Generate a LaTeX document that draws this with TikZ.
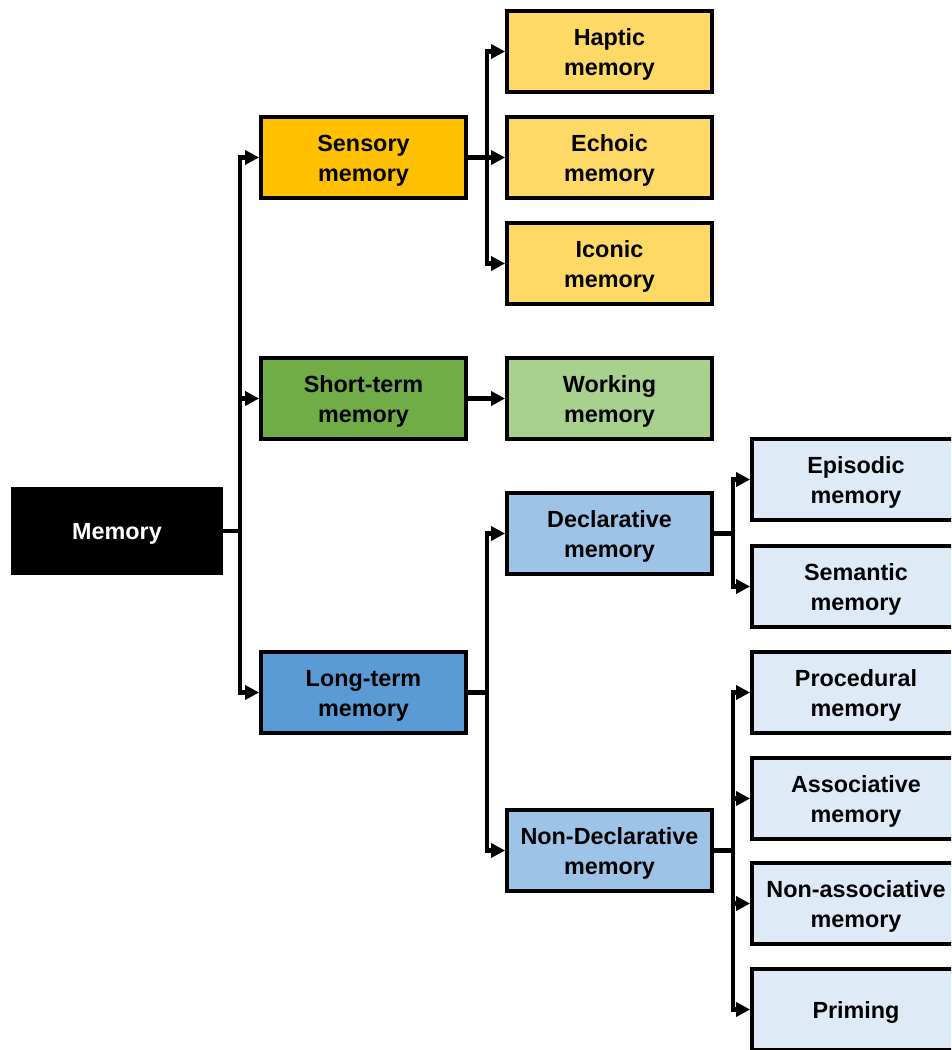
\documentclass[tikz,border=0pt]{standalone}
\usepackage{fontspec}
\setmainfont{Liberation Sans}
\usetikzlibrary{arrows.meta}
\definecolor{sensorycol}{HTML}{FFC000}
\definecolor{sensorysub}{HTML}{FFD966}
\definecolor{shortcol}{HTML}{70AD47}
\definecolor{shortsub}{HTML}{A9D18E}
\definecolor{longcol}{HTML}{5B9BD5}
\definecolor{longsub}{HTML}{9DC3E6}
\definecolor{leafcol}{HTML}{DEEBF7}
\begin{document}
\begin{tikzpicture}[x=0.02cm,y=-0.02cm,
    box/.style={draw=black,line width=2.2pt,minimum width=4.1cm,minimum height=1.62cm,
        align=center,font=\fontsize{13.3}{17}\selectfont\bfseries,inner sep=0pt,
        text height=30pt},
    oneline/.style={text height=13pt},
    link/.style={line width=2.3pt,-{Triangle[length=8pt,width=8pt]}},
    stem/.style={line width=2.3pt}]
    \useasboundingbox (0,0) rectangle (951,1050);
    \clip (0,0) rectangle (951,1050);
    % first level
    \node[box,oneline,fill=black,text=white,minimum width=4.16cm,minimum height=1.68cm] (mem) at (117,531) {Memory};
    \node[box,fill=sensorycol] (sens) at (363.5,157.5) {Sensory\\memory};
    \node[box,fill=shortcol] (short) at (363.5,398.5) {Short-term\\memory};
    \node[box,fill=longcol] (long) at (363.5,692.5) {Long-term\\memory};
    % second level
    \node[box,fill=sensorysub] (hapt) at (609.5,51.5) {Haptic\\memory};
    \node[box,fill=sensorysub] (echo) at (609.5,157.5) {Echoic\\memory};
    \node[box,fill=sensorysub] (icon) at (609.5,263.5) {Iconic\\memory};
    \node[box,fill=shortsub] (work) at (609.5,398.5) {Working\\memory};
    \node[box,fill=longsub] (decl) at (609.5,533.5) {Declarative\\memory};
    \node[box,fill=longsub] (ndecl) at (609.5,850.5) {Non-Declarative\\memory};
    % third level
    \node[box,fill=leafcol,minimum width=4.16cm] (epis) at (856,479.5) {Episodic\\memory};
    \node[box,fill=leafcol,minimum width=4.16cm] (sema) at (856,586.5) {Semantic\\memory};
    \node[box,fill=leafcol,minimum width=4.16cm] (proc) at (856,692.5) {Procedural\\memory};
    \node[box,fill=leafcol,minimum width=4.16cm] (asso) at (856,798.5) {Associative\\memory};
    \node[box,fill=leafcol,minimum width=4.16cm] (nasso) at (856,903.5) {Non-associative\\memory};
    \node[box,oneline,fill=leafcol,minimum width=4.16cm] (prim) at (856,1009.5) {Priming};
    % junctions
    \coordinate (jm) at (240,531);
    \coordinate (js) at (487,157.5);
    \coordinate (jl) at (487,692.5);
    \coordinate (jd) at (733,533.5);
    \coordinate (jn) at (733,850.5);
    \draw[stem] (mem.east) -- (jm);
    \draw[stem] (sens.east) -- (js);
    \draw[stem] (long.east) -- (jl);
    \draw[stem] (decl.east) -- (jd);
    \draw[stem] (ndecl.east) -- (jn);
    \draw[link] (jm) |- (sens.west);
    \draw[link] (jm) |- (short.west);
    \draw[link] (jm) |- (long.west);
    \draw[link] (js) |- (hapt.west);
    \draw[link] (js) |- (echo.west);
    \draw[link] (js) |- (icon.west);
    \draw[link] (short.east) -- (work.west);
    \draw[link] (jl) |- (decl.west);
    \draw[link] (jl) |- (ndecl.west);
    \draw[link] (jd) |- (epis.west);
    \draw[link] (jd) |- (sema.west);
    \draw[link] (jn) |- (proc.west);
    \draw[link] (jn) |- (asso.west);
    \draw[link] (jn) |- (nasso.west);
    \draw[link] (jn) |- (prim.west);
\end{tikzpicture}
\end{document}
